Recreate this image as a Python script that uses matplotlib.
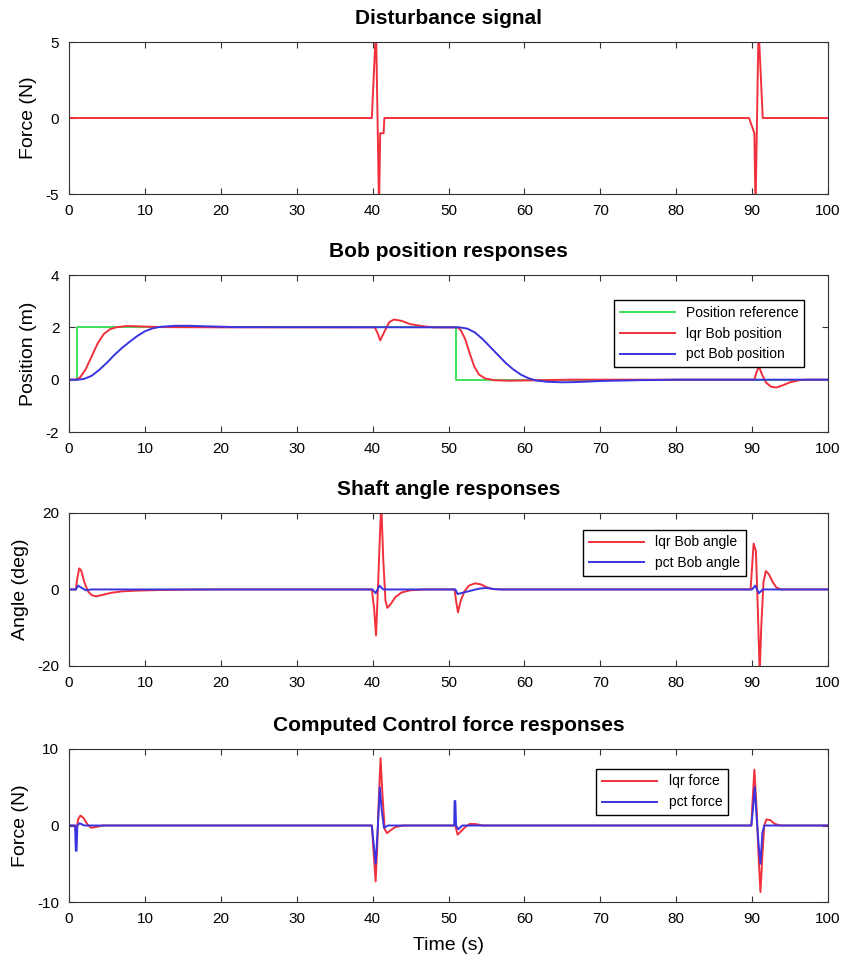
import numpy as np
import matplotlib
matplotlib.use('Agg')
import matplotlib.pyplot as plt

plt.rcParams['font.family'] = ['Liberation Sans', 'DejaVu Sans']
plt.rcParams['axes.unicode_minus'] = False

# disturbance signal
t_dist = [0, 39.9, 40.45, 40.85, 41.0, 41.45, 41.55, 89.6, 90.3, 90.45, 90.85, 91.4, 100]
f_dist = [0, 0, 6, -6, -1, -1, 0, 0, -1, -6, 6, 0, 0]

# bob position
t_ref = [0, 1, 1, 51, 51, 100]
pos_ref = [0, 0, 2, 2, 0, 0]

t_lqr_pos = [0, 1.0, 1.5, 2.2, 3.0, 3.8, 4.6, 5.4, 6.2, 7.5, 9, 12, 20,
             40.3, 40.7, 41.0, 41.5, 42.2, 42.8, 43.8, 45, 46.5, 48,
             51.2, 51.6, 52.2, 52.8, 53.4, 54.0, 54.8, 56, 58, 62, 66,
             90.3, 90.6, 90.9, 91.3, 91.8, 92.5, 93.2, 94, 95, 96.2, 97, 100]
lqr_pos = [0, 0, 0.1, 0.4, 0.9, 1.4, 1.75, 1.93, 2.0, 2.05, 2.04, 2.01, 2.0,
           2.0, 1.75, 1.5, 1.8, 2.2, 2.3, 2.25, 2.12, 2.05, 2.0,
           2.0, 1.9, 1.55, 1.0, 0.5, 0.2, 0.05, -0.02, -0.04, -0.02, 0.0,
           0.0, 0.3, 0.5, 0.2, -0.1, -0.27, -0.3, -0.22, -0.1, -0.02, 0.0, 0.0]

t_pct_pos = [0, 1.2, 2, 3, 4, 5, 6, 7, 8, 9, 10, 11, 12, 14, 16, 18, 22,
             51.5, 52.5, 53.5, 54.5, 55.5, 56.5, 57.5, 58.5, 59.5, 60.5, 61.5,
             63, 65, 67, 70, 75, 80, 100]
pct_pos = [0, 0, 0.03, 0.15, 0.38, 0.65, 0.95, 1.22, 1.45, 1.67, 1.85, 1.96, 2.02,
           2.06, 2.06, 2.04, 2.01,
           2.0, 1.95, 1.8, 1.55, 1.25, 0.95, 0.65, 0.4, 0.2, 0.06, -0.03,
           -0.08, -0.1, -0.09, -0.05, -0.02, 0.0, 0.0]

# shaft angle
t_lqr_ang = [0, 0.9, 1.1, 1.35, 1.6, 2.0, 2.5, 3.0, 3.6, 4.5, 5.5, 7, 9, 12, 16, 20,
             39.9, 40.2, 40.45, 40.7, 41.0, 41.15, 41.4, 41.7, 41.95, 42.4, 43, 43.8, 45, 47,
             50.8, 51.0, 51.25, 51.6, 52.1, 52.7, 53.5, 54.3, 55, 55.8, 57,
             89.8, 90.0, 90.2, 90.5, 90.75, 91.0, 91.2, 91.5, 91.8, 92.2, 92.7, 93.2, 93.8, 100]
lqr_ang = [0, 0, 3, 5.5, 5, 2, -0.5, -1.5, -1.8, -1.4, -0.9, -0.5, -0.3, -0.15, -0.05, 0,
           0, -5, -12, 0, 16, 22, 8, -3, -4.8, -3.8, -2, -0.8, -0.2, 0,
           0, -3, -6, -3, -0.5, 1, 1.6, 1.3, 0.6, 0.1, 0,
           0, 6, 12, 10, -5, -22, -10, 2, 4.8, 4, 2, 0.5, 0, 0]

t_pct_ang = [0, 0.9, 1.2, 1.6, 2.2, 3, 40, 40.4, 40.9, 41.4,
             50.9, 51.2, 52, 53, 54, 55, 56, 57, 90, 90.4, 90.9, 91.4, 100]
pct_ang = [0, 0, 1, 0.5, -0.2, 0, 0, -1, 1, 0,
           0, -1.2, -0.8, -0.3, 0.2, 0.4, 0.1, 0, 0, 1, -1, 0, 0]

# control force
t_lqr_f = [0, 0.8, 0.95, 1.2, 1.5, 1.9, 2.4, 2.9, 3.5, 4.5,
           39.9, 40.1, 40.4, 40.6, 40.8, 41.05, 41.3, 41.6, 41.9, 42.4, 43, 44,
           50.9, 51.2, 51.6, 52.2, 52.8, 53.5, 54.5,
           89.9, 90.05, 90.3, 90.6, 90.85, 91.1, 91.35, 91.6, 91.9, 92.4, 93, 93.8, 100]
lqr_f = [0, 0, -1, 0.8, 1.3, 1.0, 0.2, -0.3, -0.2, 0,
         0, -3, -7.3, -3, 3, 8.8, 4, -0.5, -1.0, -0.6, -0.2, 0,
         0, -1.2, -0.8, -0.2, 0.2, 0.2, 0,
         0, 3, 7.3, 2, -4, -8.7, -4, 0, 0.8, 0.7, 0.2, 0, 0]

t_pct_f = [0, 0.8, 0.9, 1.0, 1.1, 1.4, 2,
           39.9, 40.1, 40.4, 40.7, 40.95, 41.2, 41.5, 42,
           50.75, 50.8, 50.9, 51.0, 51.3, 51.8,
           89.9, 90.1, 90.35, 90.6, 90.9, 91.1, 91.35, 91.6, 100]
pct_f = [0, 0, -3.3, -3.3, 0, 0.3, 0,
         0, -2, -5, 0, 5, 2, -0.3, 0,
         0, 3.2, 3.2, 0, -0.5, 0,
         0, 2, 5, 1, -3, -5, -1, 0, 0]

red = '#f0303c'
blue = '#3a34e0'
green = '#3ee060'

fig = plt.figure(figsize=(8.56, 9.6), dpi=100)
left, width = 0.0806, 0.8867
ax1 = fig.add_axes([left, 0.7979, width, 0.1583])
ax2 = fig.add_axes([left, 0.5500, width, 0.1635])
ax3 = fig.add_axes([left, 0.3063, width, 0.1594])
ax4 = fig.add_axes([left, 0.0604, width, 0.1594])

leg_kw = dict(loc='upper right', fontsize=10, handlelength=4, fancybox=False,
              edgecolor='black', framealpha=1)
title_kw = dict(fontsize=15, fontweight='bold', pad=13)

ax1.plot(t_dist, f_dist, color=red, lw=1.4)
ax1.set_ylim(-5, 5)
ax1.set_yticks([-5, 0, 5])
ax1.set_title('Disturbance signal', **title_kw)
ax1.set_ylabel('Force (N)', fontsize=14)

ax2.plot(t_ref, pos_ref, color=green, lw=1.4, label='Position reference')
ax2.plot(t_lqr_pos, lqr_pos, color=red, lw=1.4, label='lqr Bob position')
ax2.plot(t_pct_pos, pct_pos, color=blue, lw=1.4, label='pct Bob position')
ax2.set_ylim(-2, 4)
ax2.set_yticks([-2, 0, 2, 4])
ax2.set_title('Bob position responses', **title_kw)
ax2.set_ylabel('Position (m)', fontsize=14)
ax2.legend(bbox_to_anchor=(0.978, 0.885), **leg_kw)

ax3.plot(t_lqr_ang, lqr_ang, color=red, lw=1.4, label='lqr Bob angle')
ax3.plot(t_pct_ang, pct_ang, color=blue, lw=1.4, label='pct Bob angle')
ax3.set_ylim(-20, 20)
ax3.set_yticks([-20, 0, 20])
ax3.set_title('Shaft angle responses', **title_kw)
ax3.set_ylabel('Angle (deg)', fontsize=14)
ax3.legend(bbox_to_anchor=(0.901, 0.935), **leg_kw)

ax4.plot(t_lqr_f, lqr_f, color=red, lw=1.4, label='lqr force')
ax4.plot(t_pct_f, pct_f, color=blue, lw=1.4, label='pct force')
ax4.set_ylim(-10, 10)
ax4.set_yticks([-10, 0, 10])
ax4.set_title('Computed Control force responses', **title_kw)
ax4.set_ylabel('Force (N)', fontsize=14)
ax4.set_xlabel('Time (s)', fontsize=14, labelpad=8)
ax4.legend(bbox_to_anchor=(0.877, 0.915), **leg_kw)

for ax in (ax1, ax2, ax3, ax4):
    ax.set_xlim(0, 100)
    ax.set_xticks(np.arange(0, 101, 10))
    ax.tick_params(direction='in', top=True, right=True, length=4, labelsize=11,
                   color='#333333', pad=7)
    for s in ax.spines.values():
        s.set_color('#333333')
    ax.yaxis.labelpad = 6

fig.savefig('out.png', dpi=100)
